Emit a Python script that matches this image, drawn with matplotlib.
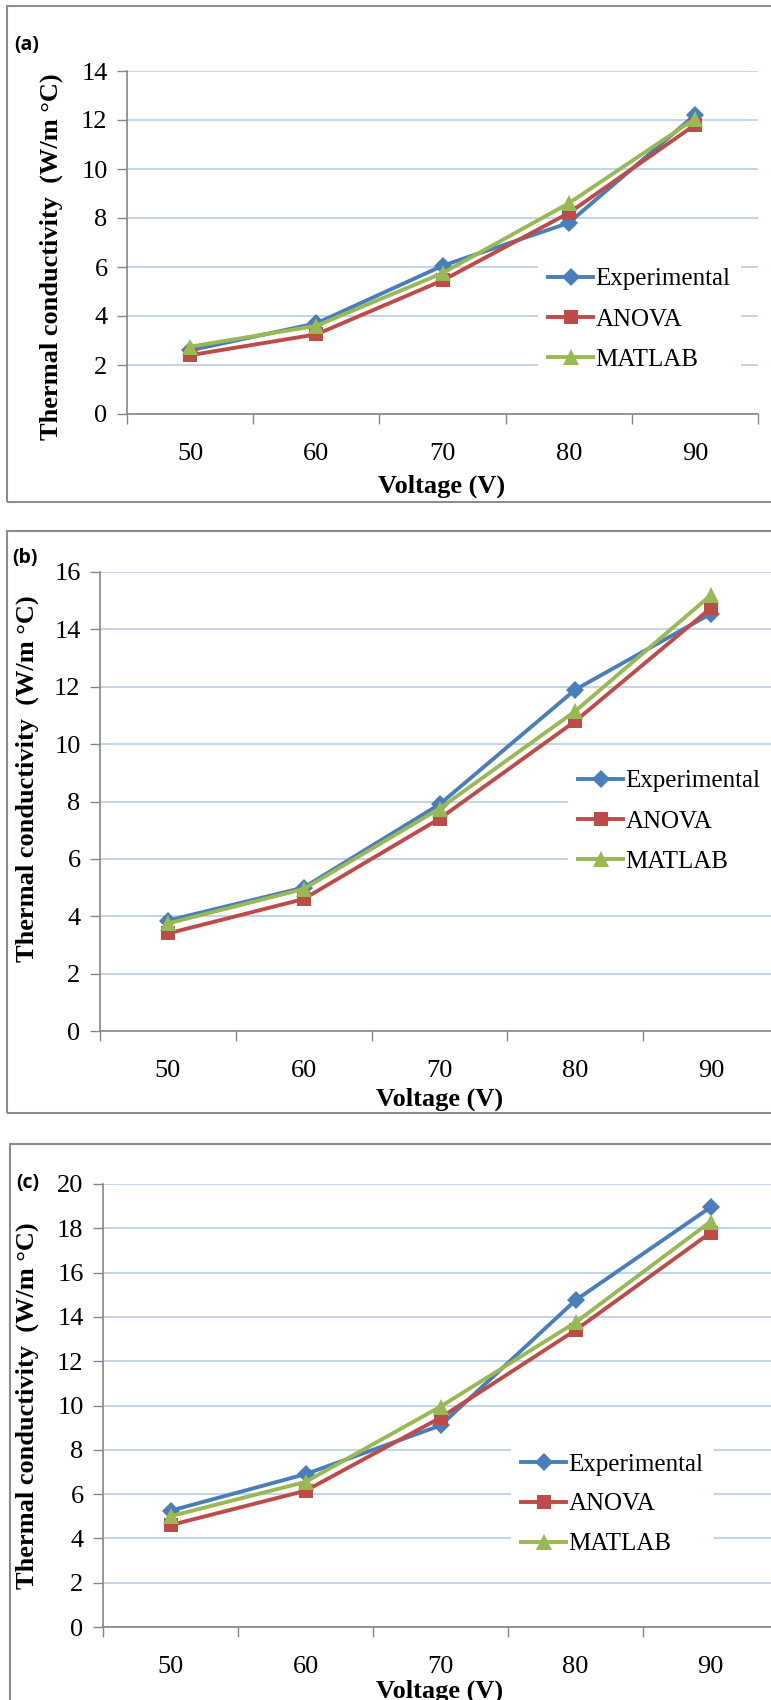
import matplotlib.pyplot as plt
from matplotlib.patches import Rectangle

W, H = 771, 1700

voltage = ['50', '60', '70', '80', '90']
series_names = ['Experimental', 'ANOVA', 'MATLAB']

# panel (a)
exp_a = [2.6, 3.7, 6.05, 7.8, 12.2]
anova_a = [2.4, 3.25, 5.45, 8.2, 11.8]
matlab_a = [2.75, 3.6, 5.75, 8.6, 12.05]

# panel (b)
exp_b = [3.85, 5.0, 7.9, 11.9, 14.55]
anova_b = [3.4, 4.6, 7.4, 10.8, 14.75]
matlab_b = [3.75, 4.95, 7.75, 11.15, 15.2]

# panel (c)
exp_c = [5.25, 6.9, 9.1, 14.75, 18.95]
anova_c = [4.6, 6.15, 9.45, 13.4, 17.8]
matlab_c = [5.0, 6.55, 9.95, 13.75, 18.3]

colors = ['#4A7EBB', '#BE4B48', '#98B954']
markers = ['D', 's', '^']
msizes = [9, 10, 11]

serif = ['Liberation Serif', 'DejaVu Serif']

fig = plt.figure(figsize=(W / 100, H / 100), dpi=100)


def px_axes(x0, y0, x1, y1):
    return fig.add_axes([x0 / W, 1 - y1 / H, (x1 - x0) / W, (y1 - y0) / H])


def fig_text(x, y, s, **kw):
    fig.text(x / W, 1 - y / H, s, **kw)


panels = [
    # label, data, ymax, axes box, frame box, label pos, ylabel pos, xlabel pos, legend pos
    ('(a)', [exp_a, anova_a, matlab_a], 14, (127, 71, 758, 414), (7, 6, 790, 502),
     (27, 45), (51, 257), (442, 486), (538, 258)),
    ('(b)', [exp_b, anova_b, matlab_b], 16, (100, 572, 779, 1031), (7, 531, 790, 1113),
     (25, 558), (27, 779), (440, 1099), (568, 760)),
    ('(c)', [exp_c, anova_c, matlab_c], 20, (103, 1184, 778, 1627), (10, 1144, 790, 1760),
     (28, 1183), (27, 1406), (440, 1691), (511, 1443)),
]

for lab, data, ymax, box, frame, lpos, ypos, xpos, legpos in panels:
    fig.patches.append(Rectangle((frame[0] / W, 1 - frame[3] / H),
                                 (frame[2] - frame[0]) / W, (frame[3] - frame[1]) / H,
                                 transform=fig.transFigure, fill=False,
                                 edgecolor='#8C8C8C', linewidth=1.5))
    ax = px_axes(*box)
    x = list(range(len(voltage)))
    for vals, name, c, m, ms in zip(data, series_names, colors, markers, msizes):
        ax.plot(x, vals, color=c, marker=m, markersize=ms, linewidth=2.8,
                label=name, markeredgewidth=0, zorder=3)
    ax.set_xlim(-0.5, len(voltage) - 0.5)
    ax.set_ylim(0, ymax)
    ax.set_yticks(range(0, ymax + 1, 2))
    ax.set_xticks([i - 0.5 for i in range(len(voltage) + 1)])
    ax.set_xticklabels([])
    ax.set_xticks(x, minor=True)
    ax.set_xticklabels(voltage, minor=True)
    ax.tick_params(axis='x', which='major', direction='out', length=7, width=1, color='#868686')
    ax.tick_params(axis='x', which='minor', length=0, pad=21, labelsize=19)
    ax.tick_params(axis='y', direction='out', length=7, width=1, color='#868686', pad=7,
                   labelsize=19)
    for t in ax.get_xticklabels(minor=True) + ax.get_yticklabels():
        t.set_family(serif)
    ax.grid(axis='y', color='#B9CDE5', linewidth=1.2, zorder=0)
    ax.set_axisbelow(True)
    for s in ['top', 'right']:
        ax.spines[s].set_visible(False)
    for s in ['left', 'bottom']:
        ax.spines[s].set_color('#868686')
        ax.spines[s].set_linewidth(1.2)
    ax.legend(loc='upper left', bbox_to_anchor=((legpos[0] - box[0]) / (box[2] - box[0]),
                                                (box[3] - legpos[1]) / (box[3] - box[1])),
              frameon=True, fancybox=False, edgecolor='none', facecolor='white',
              framealpha=1, prop={'family': serif, 'size': 18}, handlelength=1.8,
              handletextpad=0.1, labelspacing=0.7, borderpad=0.4, borderaxespad=0)
    fig_text(*lpos, lab, ha='center', va='center', fontsize=14, fontweight='bold',
             family=['Open Sans', 'DejaVu Sans'])
    fig_text(*ypos, 'Thermal conductivity  (W/m \u00b0C)', ha='center', va='center',
             rotation=90, fontsize=19, fontweight='bold', family=serif)
    fig_text(*xpos, 'Voltage (V)', ha='center', va='center', fontsize=19,
             fontweight='bold', family=serif)

fig.savefig('out.png', dpi=100)
